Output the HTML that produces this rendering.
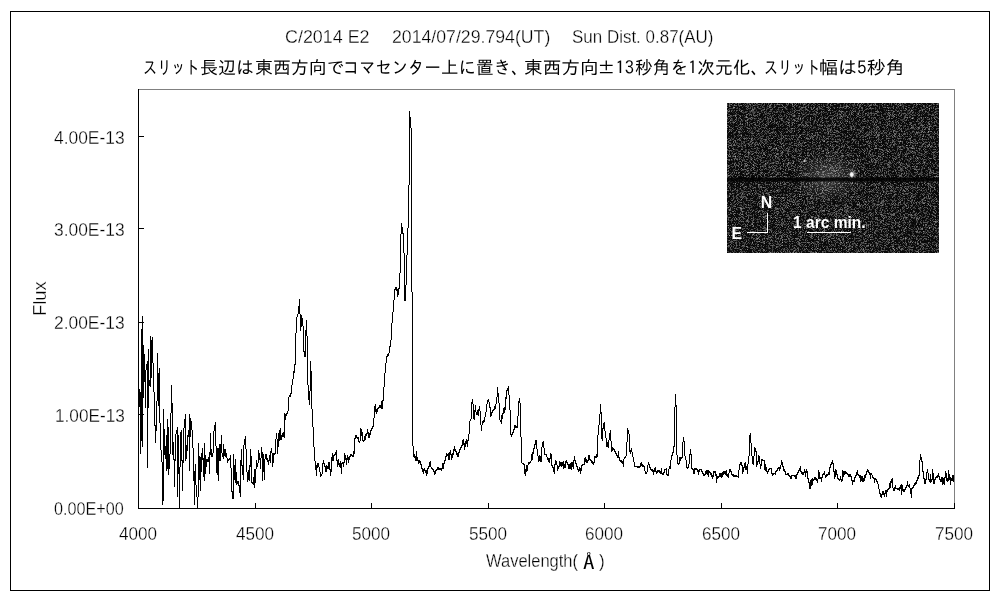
<!DOCTYPE html>
<html lang="ja">
<head>
<meta charset="utf-8">
<title>C/2014 E2 spectrum</title>
<style>
html,body{margin:0;padding:0;background:#fff;}
body{width:1000px;height:600px;position:relative;overflow:hidden;font-family:"Liberation Sans","IPAGothic","Noto Sans CJK JP",sans-serif;color:#000;}
#frame{position:absolute;left:10px;top:11px;width:980px;height:580px;box-sizing:border-box;border:1px solid #000;}
#chart{position:absolute;left:0;top:0;width:1000px;height:600px;}
.t{position:absolute;white-space:nowrap;line-height:20px;height:20px;transform-origin:0 0;}
#inset{position:absolute;left:727px;top:103px;width:212px;height:150px;background:#2a2a2a;overflow:hidden;}
#inset svg{position:absolute;left:0;top:0;}
.w{position:absolute;color:#fff;font-weight:bold;font-size:15.8px;line-height:16px;white-space:nowrap;transform-origin:0 0;}
</style>
</head>
<body>
<div id="frame"></div>

<div class="t" style="font-family:'Liberation Sans',sans-serif;font-size:18px;-webkit-text-stroke:0.3px #fff;left:284.51px;top:27px;transform:scaleX(0.9940);">C/2014 E2</div>
<div class="t" style="font-family:'Liberation Sans',sans-serif;font-size:18px;-webkit-text-stroke:0.3px #fff;left:391.52px;top:27px;transform:scaleX(0.9827);">2014/07/29.794(UT)</div>
<div class="t" style="font-family:'Liberation Sans',sans-serif;font-size:18px;-webkit-text-stroke:0.3px #fff;left:572.06px;top:27px;transform:scaleX(0.9426);">Sun Dist. 0.87(AU)</div>
<div class="t" style="font-family:'IPAGothic','Noto Sans CJK JP',sans-serif;font-size:18px;left:143.42px;top:57px;transform:scaleX(0.7879);">スリット</div>
<div class="t" style="font-family:'IPAGothic','Noto Sans CJK JP',sans-serif;font-size:18px;left:200.00px;top:57px;transform:scaleX(1.0000);">長辺は</div>
<div class="t" style="font-family:'IPAGothic','Noto Sans CJK JP',sans-serif;font-size:18px;left:255.40px;top:57px;transform:scaleX(0.9954);">東西方向で</div>
<div class="t" style="font-family:'IPAGothic','Noto Sans CJK JP',sans-serif;font-size:18px;left:342.89px;top:57px;transform:scaleX(0.9044);">コマセンター</div>
<div class="t" style="font-family:'IPAGothic','Noto Sans CJK JP',sans-serif;font-size:18px;left:441.03px;top:57px;transform:scaleX(0.9737);">上に置き、</div>
<div class="t" style="font-family:'IPAGothic','Noto Sans CJK JP',sans-serif;font-size:18px;left:523.96px;top:57px;transform:scaleX(1.0362);">東西方向</div>
<div class="t" style="font-family:'IPAGothic','Noto Sans CJK JP',sans-serif;font-size:18px;left:596.91px;top:57px;transform:scaleX(1.0312);">±13</div>
<div class="t" style="font-family:'IPAGothic','Noto Sans CJK JP',sans-serif;font-size:18px;left:634.61px;top:57px;transform:scaleX(0.9868);">秒角を1次元化、</div>
<div class="t" style="font-family:'IPAGothic','Noto Sans CJK JP',sans-serif;font-size:18px;left:763.94px;top:57px;transform:scaleX(0.7803);">スリット</div>
<div class="t" style="font-family:'IPAGothic','Noto Sans CJK JP',sans-serif;font-size:18px;left:818.94px;top:57px;transform:scaleX(1.0584);">幅は5秒角</div>
<div class="t" style="font-family:'Liberation Sans',sans-serif;font-size:18px;-webkit-text-stroke:0.3px #fff;left:53.78px;top:128px;transform:scaleX(0.9669);">4.00E-13</div>
<div class="t" style="font-family:'Liberation Sans',sans-serif;font-size:18px;-webkit-text-stroke:0.3px #fff;left:53.78px;top:220px;transform:scaleX(0.9669);">3.00E-13</div>
<div class="t" style="font-family:'Liberation Sans',sans-serif;font-size:18px;-webkit-text-stroke:0.3px #fff;left:53.78px;top:313px;transform:scaleX(0.9669);">2.00E-13</div>
<div class="t" style="font-family:'Liberation Sans',sans-serif;font-size:18px;-webkit-text-stroke:0.3px #fff;left:54.59px;top:406px;transform:scaleX(0.9557);">1.00E-13</div>
<div class="t" style="font-family:'Liberation Sans',sans-serif;font-size:18px;-webkit-text-stroke:0.3px #fff;left:53.85px;top:499px;transform:scaleX(0.9007);">0.00E+00</div>
<div class="t" style="font-family:'Liberation Sans',sans-serif;font-size:18px;-webkit-text-stroke:0.3px #fff;left:486.33px;top:551px;transform:scaleX(0.9167);">Wavelength(</div>
<div class="t" style="font-family:'IPAGothic','Noto Sans CJK JP',sans-serif;font-size:20px;left:583.00px;top:552px;transform:scaleX(1.1500);">Å</div>
<div class="t" style="font-family:'Liberation Sans',sans-serif;font-size:18px;-webkit-text-stroke:0.3px #fff;left:598.75px;top:551px;transform:scaleX(0.9500);">)</div>
<div class="t" style="font-family:'Liberation Sans',sans-serif;font-size:18px;-webkit-text-stroke:0.3px #fff;left:119.45px;top:524px;transform:scaleX(0.9526);">4000</div>
<div class="t" style="font-family:'Liberation Sans',sans-serif;font-size:18px;-webkit-text-stroke:0.3px #fff;left:236.45px;top:524px;transform:scaleX(0.9526);">4500</div>
<div class="t" style="font-family:'Liberation Sans',sans-serif;font-size:18px;-webkit-text-stroke:0.3px #fff;left:352.45px;top:524px;transform:scaleX(0.9526);">5000</div>
<div class="t" style="font-family:'Liberation Sans',sans-serif;font-size:18px;-webkit-text-stroke:0.3px #fff;left:469.45px;top:524px;transform:scaleX(0.9526);">5500</div>
<div class="t" style="font-family:'Liberation Sans',sans-serif;font-size:18px;-webkit-text-stroke:0.3px #fff;left:585.45px;top:524px;transform:scaleX(0.9526);">6000</div>
<div class="t" style="font-family:'Liberation Sans',sans-serif;font-size:18px;-webkit-text-stroke:0.3px #fff;left:702.45px;top:524px;transform:scaleX(0.9526);">6500</div>
<div class="t" style="font-family:'Liberation Sans',sans-serif;font-size:18px;-webkit-text-stroke:0.3px #fff;left:818.45px;top:524px;transform:scaleX(0.9526);">7000</div>
<div class="t" style="font-family:'Liberation Sans',sans-serif;font-size:18px;-webkit-text-stroke:0.3px #fff;left:935.45px;top:524px;transform:scaleX(0.9526);">7500</div>
<div class="t" style="font-family:'Liberation Sans',sans-serif;font-size:18px;-webkit-text-stroke:0.3px #fff;left:0;top:0;transform:translate(30.00px,316.03px) rotate(-90deg) scaleX(1.0161);">Flux</div>

<svg id="chart" width="1000" height="600" viewBox="0 0 1000 600" shape-rendering="crispEdges">
  <g fill="none" stroke-width="1">
    <path d="M138 89.5H955M954.5 89V509" stroke="#808080"/>
    <path d="M138.5 89V509M138 508.5H955" stroke="#000"/>
    <path d="M138 136.5H144M138 228.5H144M138 322.5H144M138 414.5H144" stroke="#000"/>
    <path d="M255.5 503V508M371.5 503V508M488.5 503V508M604.5 503V508M721.5 503V508M837.5 503V508M954.5 503V509" stroke="#000"/>
    <path id="spec" stroke="#000" d="M139.5 389V407M140.5 392V454M141.5 329V441M142.5 316V447M143.5 345V398M144.5 354V382M145.5 370V408M146.5 364V370M147.5 361V468M148.5 349V408M149.5 380V386M150.5 336V387M151.5 340V378M152.5 337V363M153.5 363V392M154.5 392V426M155.5 425V443M156.5 401V431M157.5 353V401M158.5 373V406M159.5 368V423M160.5 423V450M161.5 450V462M162.5 462V505M163.5 409V501M164.5 429V455M165.5 446V459M166.5 435V471M167.5 419V469M168.5 427V475M169.5 454V469M170.5 413V454M171.5 385V413M172.5 403V455M173.5 442V460M174.5 459V487M175.5 434V461M176.5 430V434M177.5 427V497M178.5 435V474M179.5 467V508M180.5 432V467M181.5 430V461M182.5 460V491M183.5 428V463M184.5 419V428M185.5 414V461M186.5 445V459M187.5 435V451M188.5 430V437M189.5 414V471M190.5 418V437M191.5 421V430M192.5 430V448M193.5 448V481M194.5 471V505M195.5 464V485M196.5 485V497M197.5 497V508M198.5 443V497M199.5 456V480M200.5 457V491M201.5 453V472M202.5 448V460M203.5 458V477M204.5 443V481M205.5 455V474M206.5 459V467M207.5 459V462M208.5 457V462M209.5 452V474M210.5 433V455M211.5 449V457M212.5 453V457M213.5 431V453M214.5 425V431M215.5 422V446M216.5 446V473M217.5 448V475M218.5 448V481M219.5 444V461M220.5 444V461M221.5 435V453M222.5 453V457M223.5 444V459M224.5 449V456M225.5 449V457M226.5 453V458M227.5 458V463M228.5 459V461M229.5 458V460M230.5 455V468M231.5 468V492M232.5 491V499M233.5 454V499M234.5 465V480M235.5 459V483M236.5 472V485M237.5 481V484M238.5 481V486M239.5 485V493M240.5 460V497M241.5 449V466M242.5 465V475M243.5 445V480M244.5 439V445M245.5 436V449M246.5 449V472M247.5 472V482M248.5 470V480M249.5 465V481M250.5 449V467M251.5 456V483M252.5 482V484M253.5 477V485M254.5 469V488M255.5 469V483M256.5 460V469M257.5 463V467M258.5 450V463M259.5 453V460M260.5 458V469M261.5 447V458M262.5 452V481M263.5 454V472M264.5 459V480M265.5 454V459M266.5 454V460M267.5 458V462M268.5 460V465M269.5 455V461M270.5 451V463M271.5 448V453M272.5 453V467M273.5 453V463M274.5 453V455M275.5 439V454M276.5 433V439M277.5 439V454M278.5 433V447M279.5 430V441M280.5 428V440M281.5 435V440M282.5 433V437M283.5 432V437M284.5 413V438M285.5 414V420M286.5 413V416M287.5 411V414M288.5 397V411M289.5 395V397M290.5 393V397M291.5 385V394M292.5 379V385M293.5 371V379M294.5 364V373M295.5 333V365M296.5 317V333M297.5 314V317M298.5 306V314M299.5 299V314M300.5 314V331M301.5 315V327M302.5 318V326M303.5 326V352M304.5 351V357M305.5 330V357M306.5 320V336M307.5 336V385M308.5 385V400M309.5 391V405M310.5 361V391M311.5 371V409M312.5 409V427M313.5 427V447M314.5 447V461M315.5 461V470M316.5 465V476M317.5 463V468M318.5 463V467M319.5 467V472M320.5 472V477M321.5 474V476M322.5 463V474M323.5 460V464M324.5 463V467M325.5 466V472M326.5 465V472M327.5 466V469M328.5 462V469M329.5 462V470M330.5 469V476M331.5 457V472M332.5 453V461M333.5 455V461M334.5 454V456M335.5 452V455M336.5 450V461M337.5 460V467M338.5 459V465M339.5 463V467M340.5 461V468M341.5 463V474M342.5 462V464M343.5 462V467M344.5 453V463M345.5 455V460M346.5 458V465M347.5 455V460M348.5 457V463M349.5 456V460M350.5 454V457M351.5 454V456M352.5 455V457M353.5 451V457M354.5 438V454M355.5 435V439M356.5 435V438M357.5 437V439M358.5 437V442M359.5 441V443M360.5 428V441M361.5 429V436M362.5 432V441M363.5 440V442M364.5 436V441M365.5 434V440M366.5 433V436M367.5 429V434M368.5 432V438M369.5 433V438M370.5 430V435M371.5 428V431M372.5 426V429M373.5 418V427M374.5 406V418M375.5 404V412M376.5 409V414M377.5 408V412M378.5 407V409M379.5 405V408M380.5 405V408M381.5 401V409M382.5 400V409M383.5 387V401M384.5 373V387M385.5 363V373M386.5 356V363M387.5 354V357M388.5 353V356M389.5 346V353M390.5 340V347M391.5 323V340M392.5 312V323M393.5 300V312M394.5 289V300M395.5 287V290M396.5 287V291M397.5 289V297M398.5 288V295M399.5 273V289M400.5 234V273M401.5 223V234M402.5 227V234M403.5 233V253M404.5 253V301M405.5 285V301M406.5 255V285M407.5 228V255M408.5 185V228M409.5 111V185M410.5 117V128M411.5 128V292M412.5 292V446M413.5 446V457M414.5 454V458M415.5 456V461M416.5 451V461M417.5 457V461M418.5 460V464M419.5 460V463M420.5 461V465M421.5 464V469M422.5 468V472M423.5 469V474M424.5 468V471M425.5 470V473M426.5 470V476M427.5 468V474M428.5 466V469M429.5 462V467M430.5 461V467M431.5 467V469M432.5 468V470M433.5 469V472M434.5 471V475M435.5 470V474M436.5 469V471M437.5 467V470M438.5 467V470M439.5 468V470M440.5 468V470M441.5 468V471M442.5 463V469M443.5 463V469M444.5 460V464M445.5 456V461M446.5 453V457M447.5 454V456M448.5 453V460M449.5 452V460M450.5 450V455M451.5 454V460M452.5 453V458M453.5 449V455M454.5 446V451M455.5 449V452M456.5 451V455M457.5 453V457M458.5 452V457M459.5 449V453M460.5 447V450M461.5 445V448M462.5 440V446M463.5 439V445M464.5 443V450M465.5 441V447M466.5 439V444M467.5 440V447M468.5 434V441M469.5 421V434M470.5 419V421M471.5 402V419M472.5 399V404M473.5 404V419M474.5 410V420M475.5 405V412M476.5 412V415M477.5 410V415M478.5 409V416M479.5 406V411M480.5 411V425M481.5 425V431M482.5 421V425M483.5 420V423M484.5 417V422M485.5 412V417M486.5 404V412M487.5 400V404M488.5 399V402M489.5 402V408M490.5 407V417M491.5 412V416M492.5 410V413M493.5 409V411M494.5 406V410M495.5 404V409M496.5 397V404M497.5 387V397M498.5 393V403M499.5 403V420M500.5 420V422M501.5 415V424M502.5 413V419M503.5 408V414M504.5 407V413M505.5 397V410M506.5 390V399M507.5 388V391M508.5 386V395M509.5 395V410M510.5 410V435M511.5 434V437M512.5 432V435M513.5 429V433M514.5 425V430M515.5 425V428M516.5 426V428M517.5 416V428M518.5 401V416M519.5 398V403M520.5 403V437M521.5 437V463M522.5 463V464M523.5 463V465M524.5 464V474M525.5 469V476M526.5 465V472M527.5 465V471M528.5 462V465M529.5 462V464M530.5 461V463M531.5 454V461M532.5 452V460M533.5 448V454M534.5 444V449M535.5 440V445M536.5 440V449M537.5 449V456M538.5 456V462M539.5 455V461M540.5 456V462M541.5 447V462M542.5 442V447M543.5 441V448M544.5 448V455M545.5 454V455M546.5 454V457M547.5 457V460M548.5 458V462M549.5 458V463M550.5 453V459M551.5 454V466M552.5 465V468M553.5 467V472M554.5 464V474M555.5 460V465M556.5 461V465M557.5 465V471M558.5 466V469M559.5 461V467M560.5 462V466M561.5 462V467M562.5 462V466M563.5 461V469M564.5 464V468M565.5 461V468M566.5 460V463M567.5 462V465M568.5 464V469M569.5 464V469M570.5 463V469M571.5 462V470M572.5 462V467M573.5 460V469M574.5 456V461M575.5 460V464M576.5 463V467M577.5 466V470M578.5 469V472M579.5 467V471M580.5 468V474M581.5 465V471M582.5 464V466M583.5 464V465M584.5 458V465M585.5 457V462M586.5 459V463M587.5 460V463M588.5 455V461M589.5 455V460M590.5 459V461M591.5 460V463M592.5 461V464M593.5 462V465M594.5 456V463M595.5 456V458M596.5 454V458M597.5 435V457M598.5 425V435M599.5 414V425M600.5 404V414M601.5 412V439M602.5 428V441M603.5 423V429M604.5 422V431M605.5 431V438M606.5 438V447M607.5 442V447M608.5 440V448M609.5 433V440M610.5 430V441M611.5 441V452M612.5 447V451M613.5 448V450M614.5 449V452M615.5 451V454M616.5 453V456M617.5 455V458M618.5 451V458M619.5 457V461M620.5 460V462M621.5 460V463M622.5 461V464M623.5 459V467M624.5 457V459M625.5 456V458M626.5 442V456M627.5 428V442M628.5 430V434M629.5 434V452M630.5 450V454M631.5 448V452M632.5 452V457M633.5 457V462M634.5 462V467M635.5 466V467M636.5 466V467M637.5 466V468M638.5 466V468M639.5 466V468M640.5 463V467M641.5 462V466M642.5 464V467M643.5 465V467M644.5 466V471M645.5 471V474M646.5 472V474M647.5 465V472M648.5 462V465M649.5 464V468M650.5 467V470M651.5 469V471M652.5 469V472M653.5 470V475M654.5 468V472M655.5 467V472M656.5 471V474M657.5 470V473M658.5 470V472M659.5 470V473M660.5 471V474M661.5 468V474M662.5 473V475M663.5 472V475M664.5 469V473M665.5 469V470M666.5 468V475M667.5 474V476M668.5 469V476M669.5 466V469M670.5 460V469M671.5 455V460M672.5 452V456M673.5 446V453M674.5 407V447M675.5 394V407M676.5 405V455M677.5 455V464M678.5 463V465M679.5 457V464M680.5 457V461M681.5 457V459M682.5 442V458M683.5 437V442M684.5 441V456M685.5 456V460M686.5 460V468M687.5 467V469M688.5 464V468M689.5 454V464M690.5 449V455M691.5 454V469M692.5 468V470M693.5 469V474M694.5 468V474M695.5 468V470M696.5 468V470M697.5 469V472M698.5 470V475M699.5 469V472M700.5 469V470M701.5 469V472M702.5 471V474M703.5 473V476M704.5 474V476M705.5 471V475M706.5 470V474M707.5 470V475M708.5 470V477M709.5 471V473M710.5 472V475M711.5 473V477M712.5 475V479M713.5 471V477M714.5 471V473M715.5 471V476M716.5 474V483M717.5 476V479M718.5 476V478M719.5 473V477M720.5 473V477M721.5 473V478M722.5 472V477M723.5 471V475M724.5 471V474M725.5 471V475M726.5 470V476M727.5 474V477M728.5 473V478M729.5 469V473M730.5 469V472M731.5 471V475M732.5 474V476M733.5 474V477M734.5 475V477M735.5 475V477M736.5 475V477M737.5 476V477M738.5 470V478M739.5 464V470M740.5 462V465M741.5 462V466M742.5 465V474M743.5 467V472M744.5 463V468M745.5 462V470M746.5 466V470M747.5 464V474M748.5 456V464M749.5 435V456M750.5 433V443M751.5 443V456M752.5 456V464M753.5 456V465M754.5 447V456M755.5 448V452M756.5 451V467M757.5 461V465M758.5 455V462M759.5 456V464M760.5 464V469M761.5 459V466M762.5 459V461M763.5 460V461M764.5 460V470M765.5 464V471M766.5 467V472M767.5 471V474M768.5 469V472M769.5 468V470M770.5 468V469M771.5 468V474M772.5 473V476M773.5 473V475M774.5 473V474M775.5 471V475M776.5 470V472M777.5 468V471M778.5 467V469M779.5 467V471M780.5 465V469M781.5 460V465M782.5 462V467M783.5 466V471M784.5 469V472M785.5 471V475M786.5 474V475M787.5 473V475M788.5 473V476M789.5 475V477M790.5 476V479M791.5 475V479M792.5 475V476M793.5 475V476M794.5 475V477M795.5 475V479M796.5 474V479M797.5 472V475M798.5 470V473M799.5 468V471M800.5 466V472M801.5 471V474M802.5 472V475M803.5 472V475M804.5 469V473M805.5 471V477M806.5 469V473M807.5 471V479M808.5 478V483M809.5 482V489M810.5 480V489M811.5 479V486M812.5 478V485M813.5 479V481M814.5 477V480M815.5 477V480M816.5 478V481M817.5 479V483M818.5 470V479M819.5 472V479M820.5 477V479M821.5 477V482M822.5 474V478M823.5 473V475M824.5 471V475M825.5 475V478M826.5 474V477M827.5 474V476M828.5 472V475M829.5 467V475M830.5 464V468M831.5 462V465M832.5 460V464M833.5 463V472M834.5 471V479M835.5 469V477M836.5 470V475M837.5 474V479M838.5 478V480M839.5 479V481M840.5 476V480M841.5 479V482M842.5 470V481M843.5 471V477M844.5 471V475M845.5 471V474M846.5 472V474M847.5 473V475M848.5 474V477M849.5 474V477M850.5 474V477M851.5 476V481M852.5 480V485M853.5 480V482M854.5 477V482M855.5 475V478M856.5 472V476M857.5 470V475M858.5 474V476M859.5 475V478M860.5 475V482M861.5 476V481M862.5 476V482M863.5 478V482M864.5 475V481M865.5 474V478M866.5 471V475M867.5 469V472M868.5 470V473M869.5 472V475M870.5 473V479M871.5 473V475M872.5 475V478M873.5 477V479M874.5 478V483M875.5 478V480M876.5 479V482M877.5 481V484M878.5 484V489M879.5 489V494M880.5 493V497M881.5 494V498M882.5 491V495M883.5 491V495M884.5 493V497M885.5 490V494M886.5 490V497M887.5 489V492M888.5 488V490M889.5 483V489M890.5 481V488M891.5 479V483M892.5 478V488M893.5 488V491M894.5 487V491M895.5 485V489M896.5 488V489M897.5 488V490M898.5 488V490M899.5 487V491M900.5 485V489M901.5 484V495M902.5 485V491M903.5 489V492M904.5 489V492M905.5 487V490M906.5 485V488M907.5 481V486M908.5 485V487M909.5 484V488M910.5 488V494M911.5 488V498M912.5 487V489M913.5 485V488M914.5 483V486M915.5 482V485M916.5 480V484M917.5 477V481M918.5 475V479M919.5 460V476M920.5 454V460M921.5 457V462M922.5 461V472M923.5 471V479M924.5 478V484M925.5 479V484M926.5 472V480M927.5 469V473M928.5 473V480M929.5 479V482M930.5 474V483M931.5 479V482M932.5 469V480M933.5 473V484M934.5 479V484M935.5 477V480M936.5 476V478M937.5 475V478M938.5 473V477M939.5 476V480M940.5 479V482M941.5 477V482M942.5 477V485M943.5 478V484M944.5 477V485M945.5 471V478M946.5 473V481M947.5 478V482M948.5 470V481M949.5 474V480M950.5 477V485M951.5 478V481M952.5 475V481M953.5 475V482"/>
  </g>
</svg>

<div id="inset">
  <svg width="212" height="150" viewBox="0 0 212 150">
    <defs>
      <filter id="nz" x="0" y="0" width="100%" height="100%" color-interpolation-filters="sRGB">
        <feTurbulence type="fractalNoise" baseFrequency="3.17 2.71" numOctaves="1" seed="7" result="n"/>
        <feColorMatrix in="n" type="matrix" values="1 0 0 0 0  1 0 0 0 0  1 0 0 0 0  0 0 0 0 1"/>
        <feComponentTransfer><feFuncR type="table" tableValues="0.03 0.03 0.03 0.03 0.03 0.03 0.03 0.03 0.03 0.04 0.06 .24 .31 .38 .45 .53 .63 .75 .88 1 1"/><feFuncG type="table" tableValues="0.03 0.03 0.03 0.03 0.03 0.03 0.03 0.03 0.03 0.04 0.06 .24 .31 .38 .45 .53 .63 .75 .88 1 1"/><feFuncB type="table" tableValues="0.03 0.03 0.03 0.03 0.03 0.03 0.03 0.03 0.03 0.04 0.06 .24 .31 .38 .45 .53 .63 .75 .88 1 1"/></feComponentTransfer>
      </filter>
      <radialGradient id="coma" cx="0.5" cy="0.5" r="0.5">
        <stop offset="0" stop-color="#fff" stop-opacity="0.24"/>
        <stop offset="0.5" stop-color="#fff" stop-opacity="0.10"/>
        <stop offset="1" stop-color="#fff" stop-opacity="0"/>
      </radialGradient>
      <linearGradient id="slit" x1="0" y1="0" x2="0" y2="1">
        <stop offset="0" stop-color="#000" stop-opacity="0"/>
        <stop offset="0.3" stop-color="#000" stop-opacity="0.85"/>
        <stop offset="0.7" stop-color="#000" stop-opacity="0.85"/>
        <stop offset="1" stop-color="#000" stop-opacity="0"/>
      </linearGradient>
      <radialGradient id="star" cx="0.5" cy="0.5" r="0.5">
        <stop offset="0" stop-color="#fff" stop-opacity="1"/>
        <stop offset="0.5" stop-color="#fff" stop-opacity="0.9"/>
        <stop offset="1" stop-color="#fff" stop-opacity="0"/>
      </radialGradient>
    </defs>
    <rect x="0" y="0" width="212" height="150" filter="url(#nz)"/>
    <ellipse cx="100" cy="74" rx="34" ry="26" fill="url(#coma)"/>
    <rect x="0" y="73.6" width="212" height="5.8" fill="url(#slit)"/>
    <ellipse cx="124.8" cy="70" rx="5" ry="7" fill="url(#coma)"/>
    <ellipse cx="124.8" cy="71.6" rx="2.7" ry="3.3" fill="url(#star)"/>
    <circle cx="77.6" cy="58" r="1.3" fill="#fff" opacity="0.65"/>
    <path d="M40.5 110V129.5H20" fill="none" stroke="#fff" stroke-width="1" shape-rendering="crispEdges"/>
    <path d="M80 129.5H124" fill="none" stroke="#fff" stroke-width="1" shape-rendering="crispEdges"/>
  </svg>
  <div class="w" style="left:33.75px;top:91.9px;">N</div>
  <div class="w" style="left:4.45px;top:123.1px;">E</div>
  <div class="w" style="left:65.8px;top:111.7px;transform:scaleX(0.985);">1 arc min.</div>
</div>
</body>
</html>
